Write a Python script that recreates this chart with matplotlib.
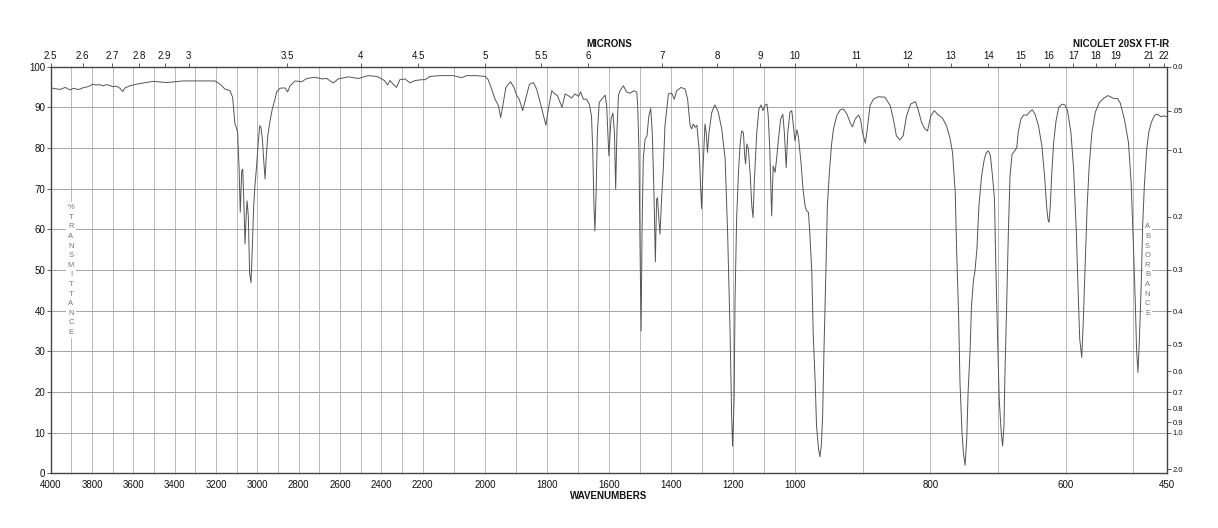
import numpy as np
import matplotlib
matplotlib.use("Agg")
import matplotlib.pyplot as plt

plt.rcParams['font.family'] = ['Liberation Sans', 'DejaVu Sans']

# ---------------- data ----------------
wavenumber = [
    4000, 3990, 3980, 3965, 3955, 3945, 3930, 3907, 3890, 3870, 3858, 3840, 3825, 3810, 3797,
    3780, 3765, 3745, 3730, 3715, 3700, 3681, 3665, 3652, 3640, 3617, 3585, 3552, 3504, 3439,
    3359, 3262, 3205, 3181, 3157, 3133, 3120, 3109,
    3100, 3096, 3089, 3083, 3076, 3071, 3065, 3060, 3055, 3050, 3044, 3038, 3031, 3025, 3018,
    3012, 3004, 2996, 2989, 2983, 2976, 2970, 2963, 2957, 2950, 2939, 2928, 2915, 2907, 2891,
    2867, 2854, 2842, 2818, 2786, 2762, 2722, 2689, 2665, 2633, 2609, 2560, 2512, 2464, 2423,
    2399, 2386, 2370, 2359, 2343, 2327, 2311, 2286, 2262, 2238, 2206,
    2193, 2177, 2145, 2101, 2075, 2058, 2026, 1999, 1989, 1978, 1967, 1956, 1949, 1942, 1932,
    1917, 1906, 1897, 1889, 1878, 1867, 1856, 1843, 1833, 1820, 1809, 1803, 1795, 1784, 1774,
    1766, 1757, 1751, 1741, 1731, 1720, 1709, 1698, 1691, 1682, 1672, 1663, 1656, 1652, 1648,
    1645, 1641, 1637, 1631, 1623, 1612,
    1607, 1600, 1593, 1587, 1582, 1578, 1574, 1569, 1564, 1553, 1543, 1532, 1518, 1510, 1507,
    1503, 1500, 1496, 1493, 1489, 1483, 1477, 1471, 1465, 1460, 1454, 1450, 1446, 1443, 1438,
    1435, 1430, 1424, 1419, 1408, 1397, 1389, 1381, 1367, 1354, 1346, 1338, 1333, 1328, 1322,
    1316, 1309, 1305, 1301, 1296, 1290, 1286, 1282, 1277, 1268, 1258, 1247, 1236, 1225, 1217,
    1209, 1204, 1201, 1196, 1193, 1188, 1182, 1177, 1172, 1166, 1162, 1159, 1155, 1150, 1144,
    1139, 1135, 1131, 1123, 1116, 1109, 1103, 1096, 1090, 1086, 1081, 1078, 1075, 1070, 1064,
    1059, 1053, 1046, 1039, 1034, 1028, 1023, 1016, 1010, 1005, 1000,
    997, 995, 991, 988, 985, 983, 980, 978, 975, 973, 970, 968, 965, 963, 961,
    959, 957, 954, 952, 949, 946, 943, 938, 933, 928, 923, 918, 915, 911, 906,
    903, 900, 896, 893, 889, 884, 877, 867, 859, 854, 850, 845, 840, 835, 829,
    822, 818, 813, 808, 804, 799, 794, 788, 782, 776, 771, 767, 763, 761, 758,
    756, 753, 751, 748.5, 746, 744, 741, 739, 736, 734, 731, 728, 724, 720, 717,
    714, 711, 708, 705, 703, 700, 698, 695, 693, 691, 689.5, 687, 684.5, 682, 679,
    676, 672, 670, 666, 662, 657, 653, 649, 645, 640, 635, 631, 628, 626, 624.4,
    622.5, 620.5, 617.5, 614, 610, 605, 601, 597, 592, 588, 584, 581, 579, 576, 574,
    571, 568, 565, 561, 556, 550, 544, 537, 529, 523, 519, 513, 507, 503, 500,
    497, 495, 493, 491, 488, 486, 483.5, 480, 477, 473, 468, 464, 459, 455, 450,
]

transmittance = [
    94.9, 94.7, 94.6, 94.5, 94.4, 94.6, 94.9, 94.3, 94.7, 94.4, 94.5, 94.9, 95.0, 95.3, 95.7,
    95.5, 95.6, 95.3, 95.6, 95.4, 95.1, 95.2, 94.7, 93.9, 94.8, 95.3, 95.7, 96.0, 96.4, 96.1,
    96.5, 96.5, 96.5, 95.7, 94.5, 94.1, 92.5, 86.0,
    84.7, 83.8, 75.6, 64.2, 74.4, 74.8, 65.8, 56.4, 62.5, 67.0, 63.3, 49.4, 46.9, 55.1, 65.8,
    70.7, 75.6, 81.4, 85.5, 85.1, 82.2, 77.3, 72.4, 78.1, 83.0, 86.7, 89.6, 92.0, 93.8, 94.7,
    94.8, 93.8, 95.3, 96.5, 96.3, 97.1, 97.4, 97.0, 97.1, 96.0, 97.0, 97.5, 97.1, 97.8, 97.6,
    97.0, 96.6, 95.5, 96.6, 95.7, 94.9, 96.8, 97.0, 96.0, 96.6, 96.8,
    96.8, 97.6, 97.8, 97.8, 97.3, 97.8, 97.8, 97.6, 96.8, 94.5, 92.0, 90.4, 87.5, 90.4, 94.9,
    96.3, 94.9, 92.9, 92.0, 89.2, 92.5, 95.7, 96.1, 94.5, 90.8, 87.5, 85.6, 89.6, 94.1, 93.3,
    92.9, 91.2, 90.0, 93.3, 92.9, 92.3, 93.3, 92.7, 93.8, 92.0, 92.0, 90.8, 87.9, 79.7, 65.8,
    59.6, 69.1, 83.8, 91.2, 92.0, 93.0,
    90.4, 78.1, 87.1, 88.6, 83.8, 69.9, 83.8, 92.9, 94.1, 95.3, 93.8, 93.5, 94.1, 93.7, 90.4,
    79.7, 59.2, 35.0, 59.2, 77.3, 82.2, 83.0, 87.9, 89.7, 83.8, 67.4, 52.0, 67.4, 67.8, 61.7,
    58.8, 67.4, 75.6, 85.5, 93.3, 93.5, 92.0, 94.1, 94.9, 94.5, 92.0, 85.5, 84.7, 85.9, 85.1,
    85.6, 79.7, 72.4, 65.1, 75.6, 85.9, 83.8, 78.9, 83.8, 88.8, 90.6, 88.8, 84.7, 77.3, 59.2,
    34.6, 14.1, 6.7, 18.2, 42.8, 62.5, 74.0, 80.6, 84.2, 83.8, 78.1, 76.1, 81.0, 79.7, 73.2,
    65.8, 62.9, 71.5, 83.8, 89.6, 90.6, 89.2, 90.6, 90.8, 87.9, 79.7, 71.5, 63.3, 75.6, 74.0,
    77.3, 82.2, 87.1, 88.3, 83.8, 75.2, 83.8, 88.8, 89.2, 85.5, 81.8,
    84.5, 83.0, 76.5, 69.9, 65.8, 64.6, 64.2, 59.2, 49.4, 34.6, 22.3, 11.6, 5.9, 4.1, 6.7,
    14.1, 30.5, 51.0, 65.8, 74.0, 80.6, 84.7, 88.0, 89.4, 89.6, 88.3, 86.1, 85.2, 87.1, 88.1,
    87.1, 83.8, 81.2, 84.7, 90.4, 92.0, 92.6, 92.5, 90.4, 86.7, 83.0, 82.0, 83.0, 87.9, 90.8,
    91.4, 89.6, 86.4, 84.7, 84.2, 87.9, 89.2, 88.1, 87.4, 85.5, 82.6, 78.9, 69.1, 55.1, 38.7,
    22.3, 10.0, 5.1, 2.0, 8.4, 19.9, 30.5, 41.2, 47.7, 49.5, 55.1, 65.8, 73.2, 77.3, 78.9,
    79.3, 78.1, 73.2, 67.4, 51.0, 30.5, 18.2, 10.0, 6.7, 11.6, 24.8, 41.2, 59.2, 73.2, 78.5,
    79.1, 80.1, 83.8, 87.1, 88.1, 88.1, 88.9, 89.4, 88.3, 85.5, 80.6, 73.2, 65.8, 62.5, 61.7,
    65.8, 73.2, 81.4, 86.7, 90.0, 90.8, 90.6, 89.2, 83.8, 74.8, 59.2, 42.8, 33.0, 28.5, 36.2,
    51.0, 65.8, 75.6, 83.8, 88.8, 91.2, 92.2, 92.9, 92.2, 92.2, 91.0, 87.1, 81.4, 71.5, 57.6,
    42.8, 30.5, 24.8, 32.1, 46.9, 60.9, 70.7, 79.7, 83.8, 86.4, 88.1, 88.3, 87.7, 87.9, 87.7,
]

bottom_ticks = [4000, 3800, 3600, 3400, 3200, 3000, 2800, 2600, 2400, 2200, 2000,
                1800, 1600, 1400, 1200, 1000, 800, 600, 450]
micron_ticks = [2.5, 2.6, 2.7, 2.8, 2.9, 3, 3.5, 4, 4.5, 5, 5.5, 6, 7, 8, 9, 10,
                11, 12, 13, 14, 15, 16, 17, 18, 19, 21, 22]
micron_labels = ['2.5', '2.6', '2.7', '2.8', '2.9', '3', '3.5', '4', '4.5', '5', '5.5', '6',
                 '7', '8', '9', '10', '11', '12', '13', '14', '15', '16', '17', '18', '19',
                 '21', '22']
absorbance_ticks = [0.0, 0.05, 0.1, 0.2, 0.3, 0.4, 0.5, 0.6, 0.7, 0.8, 0.9, 1.0, 2.0]
absorbance_labels = ['0.0', '.05', '0.1', '0.2', '0.3', '0.4', '0.5', '0.6', '0.7',
                     '0.8', '0.9', '1.0', '2.0']
transmittance_ticks = list(range(0, 101, 10))

# ---------------- piecewise-linear wavenumber scale ----------------
brk_wn = [450, 1000, 2200, 4000]
brk_u = [0.0, 1.0, 2.0, 3.0]


def fwd(x):
    return np.interp(np.asarray(x, dtype=float), brk_wn, brk_u)


def inv(u):
    return np.interp(np.asarray(u, dtype=float), brk_u, brk_wn)


W, H = 1218, 528
fig = plt.figure(figsize=(W / 100, H / 100), dpi=100)
x0, x1 = 50.7, 1167.0
y0, y1 = 66.7, 473.3
ax = fig.add_axes([x0 / W, 1 - y1 / H, (x1 - x0) / W, (y1 - y0) / H])

spine_col = '#444444'
grid_col = '#b8b8b8'
text_col = '#111111'

ax.set_xscale('function', functions=(fwd, inv))
ax.set_xlim(4000, 450)
ax.set_ylim(0, 100)

ax.plot(wavenumber, transmittance, color='#555555', lw=0.7, zorder=3)

ax.set_xticks(bottom_ticks)
ax.set_xticklabels([str(t) for t in bottom_ticks])
ax.set_xticks([w for w in range(500, 4000, 100)], minor=True)
ax.set_yticks(transmittance_ticks)
ax.set_yticklabels([str(t) for t in transmittance_ticks])
ax.tick_params(axis='x', which='major', length=0, labelsize=7, pad=5, colors=text_col)
ax.tick_params(axis='x', which='minor', length=0)
ax.tick_params(axis='y', which='major', length=3, width=0.6, labelsize=7, pad=1,
               colors=text_col, color=spine_col)
ax.grid(True, which='both', axis='x', color=grid_col, lw=0.7, zorder=0)
ax.grid(True, which='major', axis='y', color='#a4a4a4', lw=0.7, zorder=0)
for s in ax.spines.values():
    s.set_color(spine_col)
    s.set_linewidth(1.0)

# vertical stacked labels (under the spectrum line, over the grid)
lab_col = '#777777'
ax.text(71 / W, 1 - 270 / H, '\n'.join('%TRANSMITTANCE'), transform=fig.transFigure,
        ha='center', va='center', fontsize=5.5, color=lab_col, linespacing=1.52, zorder=2,
        bbox=dict(facecolor='white', edgecolor='none', pad=1.2))
ax.text(1147.5 / W, 1 - 270 / H, '\n'.join('ABSORBANCE'), transform=fig.transFigure,
        ha='center', va='center', fontsize=5.5, color=lab_col, linespacing=1.52, zorder=2,
        bbox=dict(facecolor='white', edgecolor='none', pad=1.2))

# top: microns
axt = ax.twiny()
axt.set_xscale('function', functions=(fwd, inv))
axt.set_xlim(4000, 450)
axt.set_xticks([10000.0 / m for m in micron_ticks])
axt.set_xticklabels(micron_labels)
axt.xaxis.set_minor_locator(matplotlib.ticker.NullLocator())
axt.tick_params(axis='x', length=3, width=0.6, labelsize=7, pad=1, colors=text_col,
                color=spine_col)
for s in axt.spines.values():
    s.set_visible(False)

# right: absorbance
axr = ax.twinx()
axr.set_ylim(0, 100)
axr.set_yticks([100 * 10 ** (-a) for a in absorbance_ticks])
axr.set_yticklabels(absorbance_labels)
axr.yaxis.set_minor_locator(matplotlib.ticker.NullLocator())
axr.tick_params(axis='y', length=3, width=0.6, labelsize=5.5, pad=1, colors=text_col,
                color=spine_col)
for s in axr.spines.values():
    s.set_visible(False)

# titles
fig.text(609 / W, 1 - 44 / H, 'MICRONS', ha='center', va='center', fontsize=7,
         fontweight='bold', color=text_col)
fig.text(1121 / W, 1 - 44 / H, 'NICOLET 20SX FT-IR', ha='center', va='center', fontsize=7,
         fontweight='bold', color=text_col)
fig.text(609 / W, 1 - 496 / H, 'WAVENUMBERS', ha='center', va='center', fontsize=7,
         fontweight='bold', color=text_col)

fig.savefig('out.png', dpi=100)
